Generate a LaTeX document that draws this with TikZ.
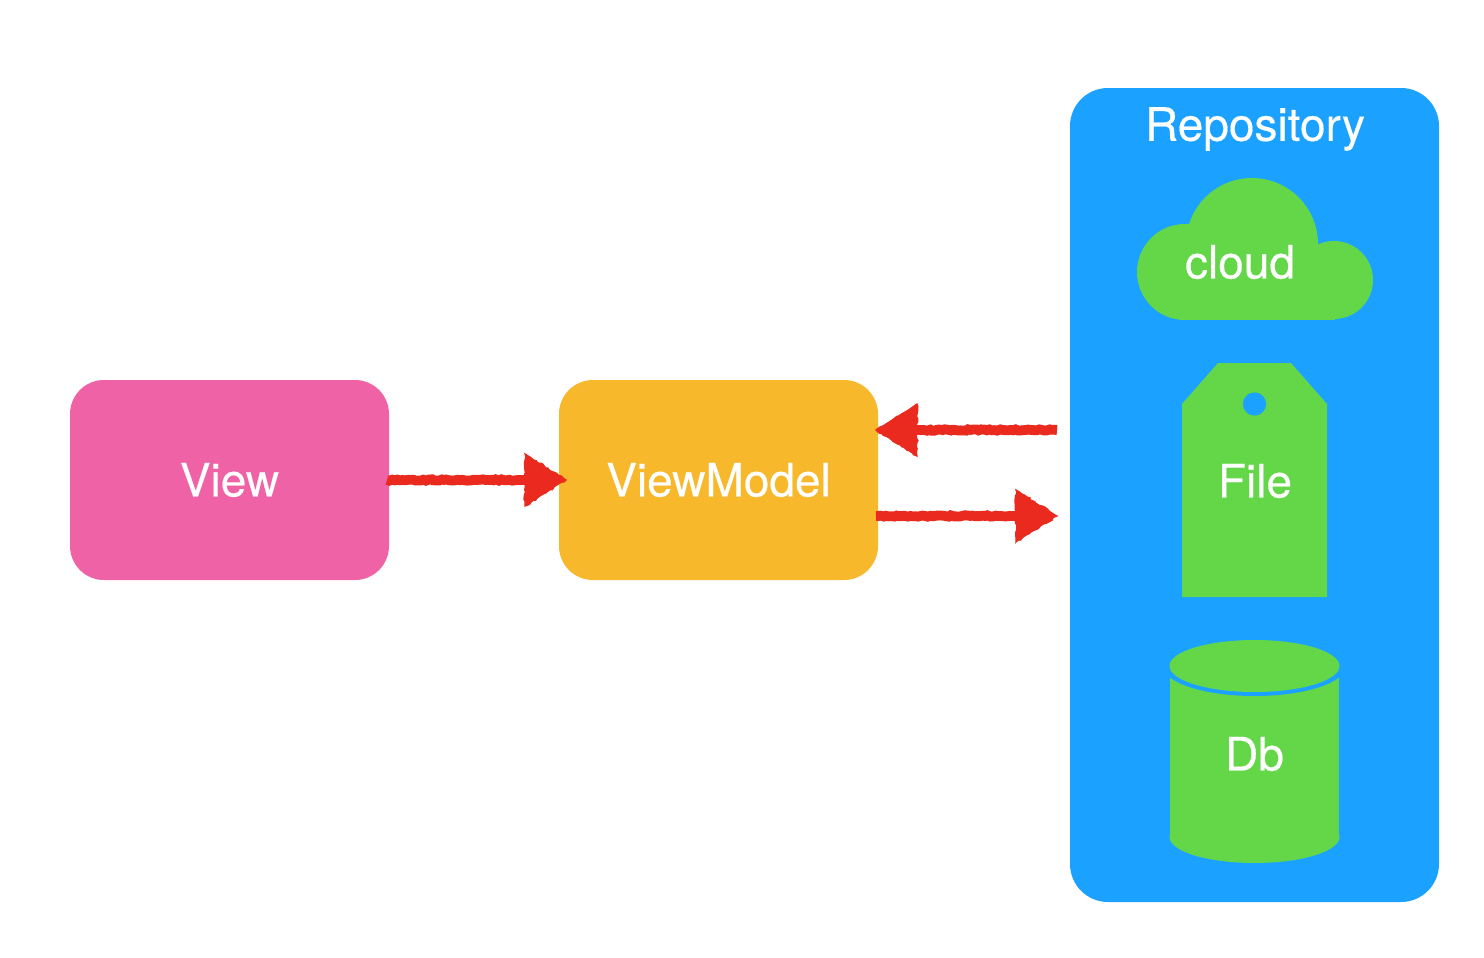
\documentclass[tikz,border=0pt]{standalone}
\usepackage{fontspec}
\setmainfont[FakeBold=0.35]{TeX Gyre Heros}
\usetikzlibrary{arrows.meta,decorations.pathmorphing,calc}
\definecolor{cpink}{HTML}{EF62A5}
\definecolor{corange}{HTML}{F7B82B}
\definecolor{cblue}{HTML}{1BA1FF}
\definecolor{cgreen}{HTML}{64D748}
\definecolor{cred}{HTML}{EA2A1F}
\tikzset{
  x=0.5pt,y=-0.5pt,
  box/.style={inner sep=0pt,outer sep=0pt,minimum width=159.5pt,minimum height=100pt,rounded corners=17pt},
  lbl/.style={text=white,font=\fontsize{23}{26}\selectfont,inner sep=0pt},
  conn/.style={draw=cred,line width=4.9pt,decorate,
    decoration={random steps,segment length=1.3pt,amplitude=.35pt,post=lineto,post length=24pt},
    -{Triangle[length=20.5pt,width=25pt,fill=cred]}},
  rough/.style={fill=cred,draw=cred,line width=.6pt,decorate,
    decoration={random steps,segment length=1.5pt,amplitude=.55pt}},
  shapefill/.style={fill=cgreen},
}
\begin{document}
\begin{tikzpicture}
\useasboundingbox (0,0) rectangle (1484,958);
\fill[white] (0,0) rectangle (1484,958);

% boxes
\node[box,fill=cpink,lbl] (view) at (229.5,480) {\raisebox{-.5pt}{View}};
\node[box,fill=corange,lbl] (vm) at (718.5,480) {ViewModel};
\node[fill=cblue,inner sep=0pt,outer sep=0pt,minimum width=184.5pt,minimum height=407pt,rounded corners=19pt] (repo) at (1254.5,495) {};
\node[lbl] (repotitle) at (1255,129) {Repository};

% cloud
\fill[shapefill] (1185,272) circle[radius=24pt];
\fill[shapefill] (1252,244) circle[radius=33pt];
\fill[shapefill] (1334,280) circle[radius=19.5pt];
\fill[shapefill] (1185,272) rectangle (1335,320);
\fill[shapefill] (1185,296) circle[radius=12pt];
\node[lbl] (cloud) at (1240,262) {cloud};

% file tag
\fill[shapefill] (1182,597) -- (1182,404) -- (1218,363) -- (1291,363) -- (1327,404) -- (1327,597) -- cycle;
\fill[cblue] (1254.5,404) circle[radius=5.8pt];
\node[lbl] (file) at (1255,481) {File};

% database
\fill[shapefill] (1254.5,837) ellipse[x radius=42.5pt,y radius=13pt];
\fill[shapefill] (1170,666) rectangle (1339,837);
\fill[cblue] (1254.5,666) ellipse[x radius=45.7pt,y radius=15pt];
\fill[shapefill] (1254.5,666) ellipse[x radius=42.5pt,y radius=13pt];
\node[lbl] (db) at (1254.5,754) {Db};

% connectors
\coordinate (repoin) at (1057,430);
\coordinate (repoout) at (1057,516);

\draw[conn] ([xshift=-1pt]view.east) -- ([xshift=3.5pt]vm.west);
\fill[rough] ([xshift=3.5pt]vm.west) -- ++(-41,-26) -- ++(0,52) -- cycle;

\draw[conn] (repoin) -- ([xshift=-1pt]repoin -| vm.east);
\fill[rough] ([xshift=-1pt]repoin -| vm.east) -- ++(41,-26) -- ++(0,52) -- cycle;

\draw[conn] ([xshift=-1pt]repoout -| vm.east) -- (repoout);
\fill[rough] (repoout) -- ++(-41,-26) -- ++(0,52) -- cycle;
\end{tikzpicture}
\end{document}
